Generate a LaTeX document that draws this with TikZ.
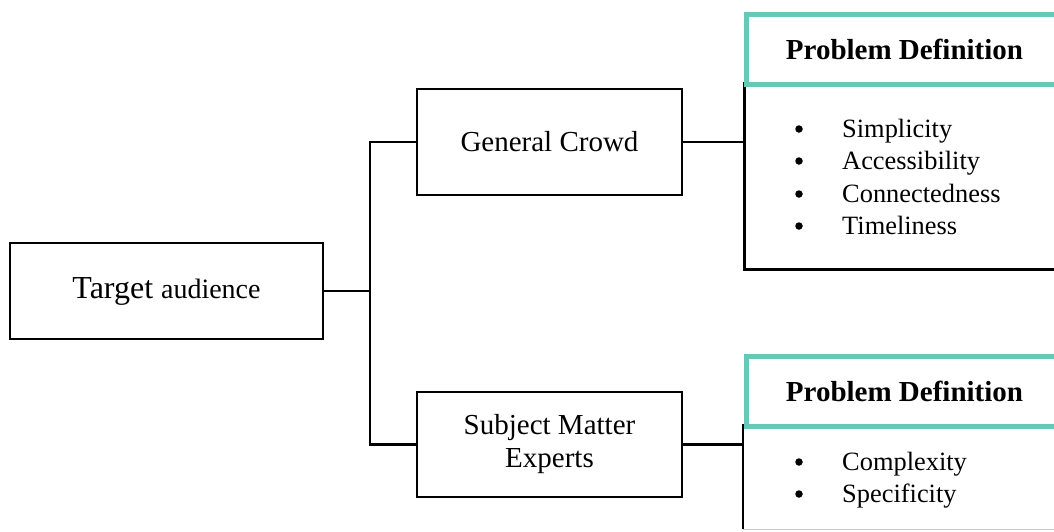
\documentclass[tikz,border=0pt]{standalone}
\usepackage{fontspec}
\setmainfont{Liberation Serif}
\definecolor{teal1}{RGB}{102,200,182}
\begin{document}
\begin{tikzpicture}[x=1pt,y=-1pt,
  box/.style={draw=black, line width=2.7pt, rectangle, inner sep=0pt, align=center, font=\fontsize{29}{33}\selectfont},
  head/.style={draw=teal1, line width=5pt, fill=white, inner sep=0pt, font=\bfseries\fontsize{29}{33}\selectfont},
  body/.style={inner sep=0pt},
  item/.style={anchor=base west, inner sep=0pt, font=\fontsize{26.4}{32}\selectfont},
  dot/.style={circle, fill=black, inner sep=0pt, minimum size=7.5pt},
  conn/.style={line width=2.7pt}]
\useasboundingbox (0,0) rectangle (1054,531);
\clip (0,0) rectangle (1054,531);

% left and middle boxes
\node[box, minimum width=313pt, minimum height=96pt] (ta) at (166.5,291)
  {\fontsize{32}{36}\selectfont Target \fontsize{28}{33}\selectfont audience};
\node[box, minimum width=265pt, minimum height=106pt] (gc) at (549.5,142) {General Crowd};
\node[box, minimum width=265pt, minimum height=105pt] (sme) at (549.5,444.5) {Subject Matter\\Experts};

% right bodies
\node[body, draw=black, line width=2.7pt, minimum width=330pt, minimum height=186pt, anchor=north west] (b1) at (743,82) {};
\node[body, minimum width=330pt, minimum height=105pt, anchor=north west] (b2) at (743,424) {};
\draw[conn] (b2.north west) -- (b2.south west);
\draw[line width=1.6pt, black!22] (b2.south west) -- (b2.south east);

% headers
\node[head, minimum width=316pt, minimum height=70pt, anchor=north west] (h1) at (744,12) {Problem Definition};
\node[head, minimum width=316pt, minimum height=70pt, anchor=north west] (h2) at (744,354) {Problem Definition};

% connectors
\coordinate (j) at (370,291);
\draw[conn] (ta.east) -- (j);
\draw[conn] (gc.west) -| (j) |- (sme.west);
\draw[conn] (gc.east) -- (gc.east -| b1.west);
\draw[conn] (sme.east) -- (sme.east -| b2.west);

% lists
\foreach \t/\yy [count=\i] in {Simplicity/137, Accessibility/169, Connectedness/202, Timeliness/234} {
  \node[item] (a\i) at (842,\yy) {\t};
  \node[dot] (ab\i) at (799,\yy-8) {};
}
\foreach \t/\yy [count=\i] in {Complexity/470, Specificity/502} {
  \node[item] (c\i) at (842,\yy) {\t};
  \node[dot] (cb\i) at (799,\yy-8) {};
}
\end{tikzpicture}
\end{document}
